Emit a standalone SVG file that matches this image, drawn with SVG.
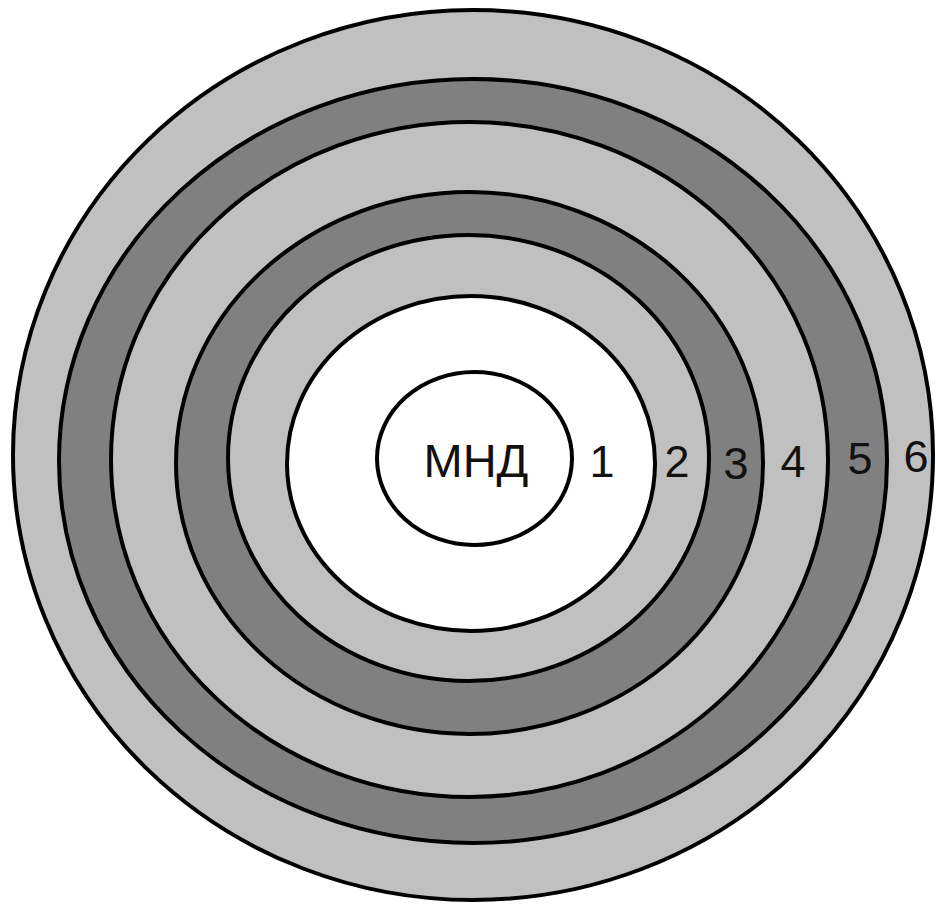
<svg xmlns="http://www.w3.org/2000/svg" width="937" height="904" viewBox="0 0 937 904">
<style>
.ring{stroke:#000;stroke-width:4}
.light{fill:#c0c0c0}
.dark{fill:#808080}
.white{fill:#fff}
text{font-family:"Liberation Sans",Arial,sans-serif;font-size:45px;fill:#111;text-anchor:middle}
</style>
<rect width="937" height="904" fill="#fff"/>
<g id="zone6"><ellipse class="ring light" cx="473" cy="455" rx="460" ry="445"/></g>
<g id="zone5"><ellipse class="ring dark" cx="473" cy="461" rx="414" ry="382"/></g>
<g id="zone4"><ellipse class="ring light" cx="469.5" cy="459.5" rx="358.5" ry="337.5"/></g>
<g id="zone3"><ellipse class="ring dark" cx="469.5" cy="463" rx="293.5" ry="271"/></g>
<g id="zone2"><ellipse class="ring light" cx="468.5" cy="458" rx="240.5" ry="223"/></g>
<g id="zone1"><ellipse class="ring white" cx="471" cy="463.5" rx="184" ry="167.5"/></g>
<g id="mnd"><ellipse class="ring white" cx="474.5" cy="458.5" rx="97.5" ry="86.5"/>
<text x="476" y="477" style="font-size:47px">МНД</text></g>
<g id="labels">
<text x="602" y="477">1</text>
<text x="677" y="477">2</text>
<text x="736" y="479">3</text>
<text x="793" y="477">4</text>
<text x="860" y="474">5</text>
<text x="916" y="472">6</text>
</g>
</svg>
